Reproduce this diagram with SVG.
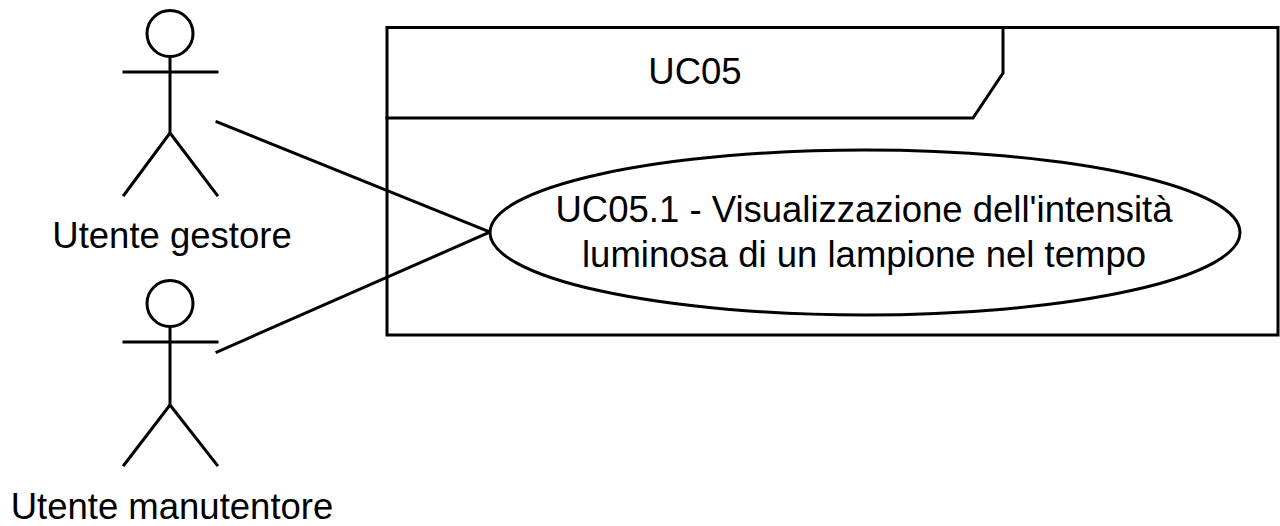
<svg xmlns="http://www.w3.org/2000/svg" width="1280" height="526" viewBox="0 0 1280 526">
<style>
.s{fill:none;stroke:#000;stroke-width:3;stroke-linecap:square}
.f{fill:#fff;stroke:#000;stroke-width:3}
.t{font-family:"Liberation Sans",Arial,sans-serif;font-size:36.5px;fill:#000;text-anchor:middle}
</style>
<rect width="1280" height="526" fill="#fff"/>
<g id="frame">
<rect class="f" x="387" y="27.5" width="891" height="307.5"/>
<path class="s" d="M387 118 H973 L1003 73 V27.5"/>
<text class="t" x="695" y="84">UC05</text>
</g>
<g id="connectors">
<line class="s" x1="217" y1="122" x2="490" y2="232"/>
<line class="s" x1="217" y1="352" x2="490" y2="232"/>
</g>
<g id="usecase">
<ellipse class="f" cx="865" cy="232.5" rx="375" ry="82.5"/>
<text class="t" x="864" y="222">UC05.1 - Visualizzazione dell'intensità</text>
<text class="t" x="864" y="267">luminosa di un lampione nel tempo</text>
</g>
<g id="actor-gestore">
<circle class="f" cx="170" cy="33.5" r="23"/>
<path class="s" d="M124 72 H217 M170 57 V133 L124 195 M170 133 L217 195"/>
<text class="t" x="172" y="248">Utente gestore</text>
</g>
<g id="actor-manutentore">
<circle class="f" cx="170" cy="303.5" r="23"/>
<path class="s" d="M124 342 H217 M170 327 V405 L124 465 M170 405 L217 465"/>
<text class="t" x="172" y="519">Utente manutentore</text>
</g>
</svg>
